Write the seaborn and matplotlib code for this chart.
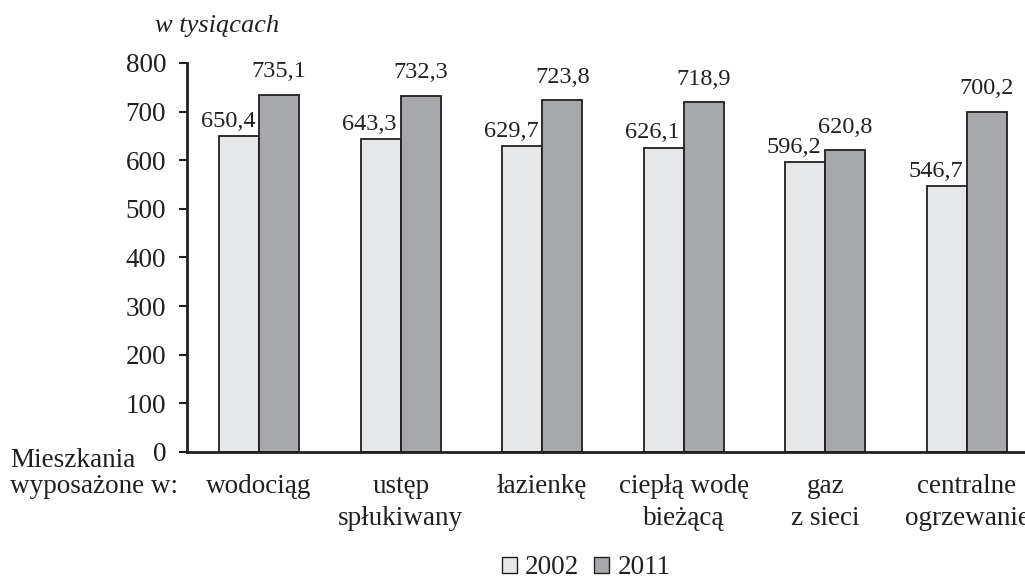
import matplotlib
matplotlib.use("Agg")
import matplotlib.pyplot as plt
from matplotlib.patches import Patch
import seaborn as sns
import pandas as pd

categories = ["wodociąg", "ustęp\nspłukiwany", "łazienkę", "ciepłą wodę\nbieżącą",
              "gaz\nz sieci", "centralne\nogrzewanie"]
values_2002 = [650.4, 643.3, 629.7, 626.1, 596.2, 546.7]
values_2011 = [735.1, 732.3, 723.8, 718.9, 620.8, 700.2]
years = ["2002", "2011"]
yticks = [0, 100, 200, 300, 400, 500, 600, 700, 800]

colors = {"2002": "#e6e7e9", "2011": "#a7a8ab"}
ink = "#231f20"

df = pd.DataFrame({
    "kategoria": categories * 2,
    "rok": [years[0]] * len(categories) + [years[1]] * len(categories),
    "wartosc": values_2002 + values_2011,
})

sns.set_theme(style="white")
plt.rcParams["font.family"] = ["Liberation Serif", "DejaVu Serif"]
plt.rcParams["text.color"] = ink

fig = plt.figure(figsize=(10.25, 5.8), dpi=100)
ax = fig.add_axes([0.1824, 0.2207, 0.8176, 0.6707])

sns.barplot(data=df, x="kategoria", y="wartosc", hue="rok", order=categories,
            hue_order=years, palette=colors, width=0.565, gap=0,
            edgecolor=ink, linewidth=1.3, saturation=1, legend=False, ax=ax)

ax.set_xlim(-0.51, 5.41)
ax.set_ylim(0, 800)
ax.set_yticks(yticks)
ax.set_yticklabels([str(t) for t in yticks], fontsize=19.5, color=ink)
ax.tick_params(axis="y", which="major", direction="out", length=6, width=1.5,
               color=ink, pad=9, left=True)
ax.tick_params(axis="x", length=0, pad=16, labelsize=19.5, labelcolor=ink)
for lbl in ax.get_xticklabels():
    lbl.set_linespacing(1.35)
ax.set_xlabel("")
ax.set_ylabel("")
for side in ["top", "right"]:
    ax.spines[side].set_visible(False)
for side in ["left", "bottom"]:
    ax.spines[side].set_color(ink)
    ax.spines[side].set_linewidth(2)
ax.grid(False)

# value labels above each bar
for container, year, dx, dy in zip(ax.containers, years, (-8, 0), (3, 9)):
    for bar, val in zip(container, values_2002 if year == "2002" else values_2011):
        ax.annotate(f"{val:.1f}".replace(".", ","),
                    (bar.get_x() + bar.get_width() / 2, val),
                    xytext=(dx, dy), textcoords="offset points",
                    ha="center", va="bottom", fontsize=17.5, color=ink)

fig.text(0.151, 0.955, "w tysiącach", fontsize=19, style="italic",
         ha="left", va="center", color=ink)
fig.text(0.01, 1 - 467 / 580, "Mieszkania", fontsize=19.5, ha="left",
         va="baseline", color=ink)
fig.text(0.01, 1 - 493 / 580, "wyposażone w:", fontsize=19.5, ha="left",
         va="baseline", color=ink)

handles = [Patch(facecolor=colors[y], edgecolor=ink, linewidth=1) for y in years]
fig.legend(handles, years, loc="center", bbox_to_anchor=(0.572, 0.021), ncol=2,
           frameon=False, fontsize=19.5, handlelength=0.55, handleheight=0.55,
           handletextpad=0.3, columnspacing=0.55, borderpad=0, borderaxespad=0)

fig.savefig("out.png", dpi=100)
